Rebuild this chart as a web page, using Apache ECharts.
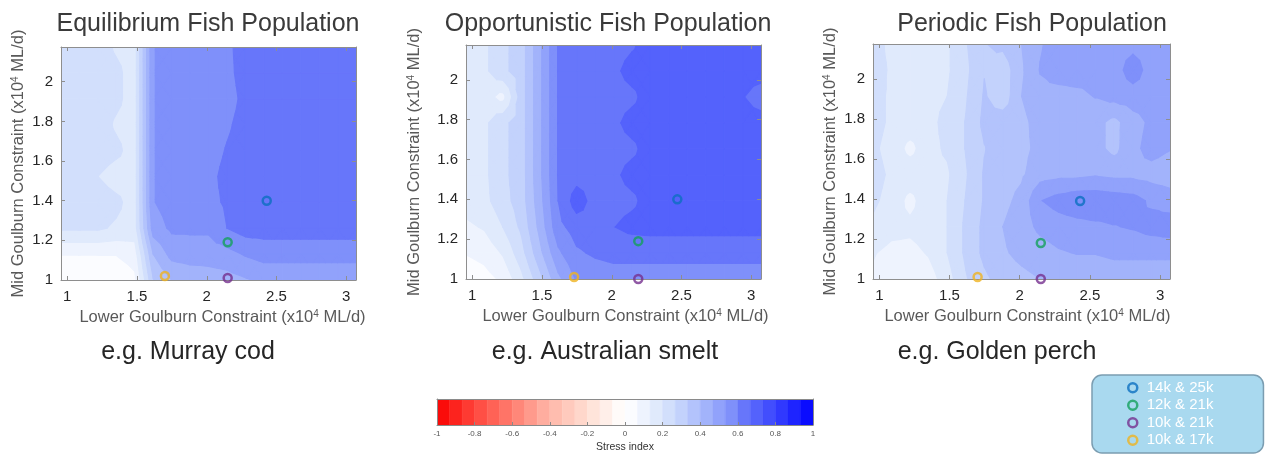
<!DOCTYPE html>
<html>
<head>
<meta charset="utf-8">
<script src="https://cdn.jsdelivr.net/npm/echarts@6/dist/echarts.min.js"></script>
<style>
  html, body { margin: 0; padding: 0; background: #ffffff; }
  #chart { width: 1271px; height: 454px; }
</style>
</head>
<body>
<div id="chart"></div>
<script>
// Flow constraint grid (x10^4 ML/d)
const lowerFlow = [0.955, 1.087, 1.219, 1.352, 1.484, 1.616, 1.748, 1.880, 2.013, 2.145, 2.277, 2.409, 2.541, 2.674, 2.806, 2.938, 3.070];
const midFlow = [1.000, 1.131, 1.261, 1.392, 1.522, 1.653, 1.784, 1.914, 2.045, 2.175];

// Stress index on the grid, one row per midFlow value (bottom to top)
const equilibriumStress = [
  [0.00, 0.00, 0.00, 0.01, 0.05, 0.33, 0.40, 0.42, 0.43, 0.44, 0.46, 0.48, 0.48, 0.48, 0.48, 0.48, 0.48],
  [0.07, 0.07, 0.07, 0.07, 0.10, 0.40, 0.49, 0.50, 0.50, 0.51, 0.54, 0.56, 0.56, 0.56, 0.56, 0.56, 0.56],
  [0.21, 0.21, 0.21, 0.19, 0.17, 0.50, 0.545, 0.545, 0.545, 0.60, 0.63, 0.63, 0.63, 0.63, 0.63, 0.63, 0.63],
  [0.235, 0.235, 0.235, 0.215, 0.17, 0.53, 0.56, 0.56, 0.58, 0.61, 0.63, 0.63, 0.63, 0.63, 0.63, 0.63, 0.63],
  [0.235, 0.24, 0.20, 0.17, 0.17, 0.53, 0.56, 0.56, 0.58, 0.62, 0.63, 0.63, 0.63, 0.63, 0.63, 0.63, 0.63],
  [0.235, 0.235, 0.235, 0.215, 0.17, 0.53, 0.56, 0.56, 0.57, 0.605, 0.63, 0.63, 0.63, 0.63, 0.63, 0.63, 0.63],
  [0.235, 0.235, 0.235, 0.19, 0.17, 0.53, 0.56, 0.56, 0.56, 0.59, 0.625, 0.63, 0.63, 0.63, 0.63, 0.63, 0.63],
  [0.235, 0.235, 0.235, 0.215, 0.17, 0.53, 0.56, 0.56, 0.56, 0.57, 0.62, 0.63, 0.63, 0.63, 0.63, 0.63, 0.63],
  [0.235, 0.235, 0.235, 0.215, 0.17, 0.53, 0.56, 0.56, 0.56, 0.58, 0.63, 0.63, 0.63, 0.63, 0.63, 0.63, 0.63],
  [0.235, 0.235, 0.235, 0.19, 0.17, 0.53, 0.56, 0.56, 0.56, 0.585, 0.63, 0.63, 0.63, 0.63, 0.63, 0.63, 0.63]
];
const opportunisticStress = [
  [0.02, 0.04, 0.08, 0.18, 0.31, 0.45, 0.54, 0.56, 0.57, 0.57, 0.57, 0.57, 0.57, 0.57, 0.57, 0.57, 0.57],
  [0.07, 0.09, 0.14, 0.24, 0.38, 0.52, 0.59, 0.61, 0.62, 0.62, 0.62, 0.62, 0.62, 0.62, 0.62, 0.62, 0.62],
  [0.12, 0.14, 0.20, 0.28, 0.42, 0.58, 0.63, 0.64, 0.665, 0.685, 0.69, 0.69, 0.69, 0.69, 0.69, 0.69, 0.69],
  [0.16, 0.18, 0.24, 0.30, 0.44, 0.60, 0.70, 0.64, 0.645, 0.655, 0.69, 0.69, 0.69, 0.69, 0.69, 0.69, 0.69],
  [0.17, 0.185, 0.25, 0.30, 0.45, 0.605, 0.64, 0.64, 0.655, 0.685, 0.69, 0.69, 0.69, 0.69, 0.69, 0.69, 0.69],
  [0.17, 0.185, 0.25, 0.30, 0.45, 0.605, 0.64, 0.64, 0.645, 0.655, 0.69, 0.69, 0.69, 0.69, 0.69, 0.69, 0.69],
  [0.17, 0.185, 0.25, 0.30, 0.45, 0.605, 0.64, 0.64, 0.655, 0.685, 0.69, 0.69, 0.69, 0.69, 0.69, 0.69, 0.69],
  [0.17, 0.16, 0.11, 0.30, 0.45, 0.605, 0.64, 0.64, 0.645, 0.655, 0.69, 0.69, 0.69, 0.69, 0.69, 0.67, 0.64],
  [0.17, 0.185, 0.25, 0.30, 0.45, 0.605, 0.64, 0.64, 0.655, 0.685, 0.69, 0.69, 0.69, 0.69, 0.69, 0.69, 0.69],
  [0.17, 0.185, 0.25, 0.30, 0.45, 0.605, 0.64, 0.64, 0.645, 0.66, 0.69, 0.69, 0.69, 0.69, 0.69, 0.69, 0.69]
];
const periodicStress = [
  [0.12, 0.08, 0.07, 0.10, 0.17, 0.26, 0.32, 0.36, 0.38, 0.40, 0.41, 0.42, 0.42, 0.43, 0.43, 0.43, 0.43],
  [0.14, 0.11, 0.11, 0.14, 0.20, 0.28, 0.35, 0.39, 0.42, 0.44, 0.46, 0.47, 0.47, 0.48, 0.48, 0.48, 0.48],
  [0.19, 0.16, 0.15, 0.17, 0.20, 0.28, 0.35, 0.40, 0.44, 0.48, 0.50, 0.51, 0.52, 0.53, 0.54, 0.56, 0.57],
  [0.21, 0.18, 0.11, 0.18, 0.20, 0.27, 0.34, 0.38, 0.42, 0.53, 0.56, 0.58, 0.58, 0.57, 0.56, 0.52, 0.50],
  [0.22, 0.19, 0.18, 0.18, 0.19, 0.26, 0.34, 0.37, 0.39, 0.44, 0.45, 0.45, 0.46, 0.45, 0.45, 0.44, 0.43],
  [0.21, 0.18, 0.11, 0.18, 0.21, 0.27, 0.33, 0.37, 0.38, 0.42, 0.43, 0.43, 0.42, 0.38, 0.45, 0.49, 0.47],
  [0.22, 0.19, 0.18, 0.18, 0.22, 0.27, 0.35, 0.37, 0.38, 0.43, 0.43, 0.43, 0.42, 0.38, 0.44, 0.48, 0.50],
  [0.22, 0.19, 0.18, 0.18, 0.20, 0.26, 0.34, 0.29, 0.40, 0.45, 0.44, 0.45, 0.47, 0.49, 0.50, 0.50, 0.47],
  [0.23, 0.19, 0.18, 0.18, 0.19, 0.25, 0.33, 0.29, 0.39, 0.47, 0.50, 0.50, 0.49, 0.50, 0.57, 0.50, 0.47],
  [0.23, 0.18, 0.17, 0.18, 0.19, 0.26, 0.33, 0.35, 0.40, 0.46, 0.50, 0.50, 0.50, 0.50, 0.51, 0.50, 0.48]
];

// Flow scenarios (mid & lower constraint) shown as rings
const scenarioNames = ['14k & 25k', '12k & 21k', '10k & 21k', '10k & 17k'];
const equilibriumScenarios = [[2.43, 1.40], [2.15, 1.19], [2.15, 1.01], [1.70, 1.02]];
const opportunisticScenarios = [[2.47, 1.40], [2.19, 1.19], [2.19, 1.00], [1.73, 1.01]];
const periodicScenarios = [[2.43, 1.39], [2.15, 1.18], [2.15, 1.00], [1.70, 1.01]];

const panelTitles = ['Equilibrium Fish Population', 'Opportunistic Fish Population', 'Periodic Fish Population'];
const panelExamples = ['e.g. Murray cod', 'e.g. Australian smelt', 'e.g. Golden perch'];

const lowerTicks = [1, 1.5, 2, 2.5, 3];
const midTicks = [1, 1.2, 1.4, 1.6, 1.8, 2];
const stressTickStep = 0.2;
const levelCount = 15;            // filled levels on each side of zero

// ---- styling ----
const FONT = '"Liberation Sans", Arial, Helvetica, sans-serif';
const scenarioColors = ['#0b6fc0', '#14a05c', '#76308f', '#efb321'];
const frameColor = '#8e8e8e';
const STEP = 1 / levelCount;

// red - white - blue colour map
const colormapStops = [
  [-1, [248, 0, 0]], [-0.967, [250, 12, 10]], [-0.8, [255, 70, 60]], [-0.6, [255, 125, 112]],
  [-0.4, [255, 182, 168]], [-0.2, [255, 222, 210]], [-0.033, [255, 251, 249]], [0, [255, 255, 255]],
  [0.033, [251, 252, 255]], [0.1, [238, 243, 254]], [0.167, [224, 234, 252]], [0.233, [210, 223, 252]],
  [0.3, [195, 210, 252]], [0.367, [179, 195, 252]], [0.433, [162, 179, 251]], [0.5, [145, 162, 251]],
  [0.567, [127, 144, 250]], [0.633, [103, 118, 250]], [0.7, [84, 98, 252]], [0.767, [66, 78, 253]],
  [0.833, [48, 57, 254]], [0.9, [30, 36, 255]], [0.967, [10, 12, 255]], [1, [0, 0, 255]]
];
function colormap(t) {
  t = Math.max(-1, Math.min(1, t));
  for (let n = 0; n < colormapStops.length - 1; n++) {
    const [ta, ca] = colormapStops[n];
    const [tb, cb] = colormapStops[n + 1];
    if (t <= tb) {
      const f = (t - ta) / (tb - ta);
      return ca.map((v, q) => v + f * (cb[q] - v));
    }
  }
  return colormapStops[colormapStops.length - 1][1];
}
function rgb(c) { return 'rgb(' + c.map(v => Math.round(v)).join(',') + ')'; }
function levelColor(k) { return rgb(colormap((k + 0.5) * STEP)); }

// keep the part of a polygon whose value is >= lo (values interpolate linearly)
function clipAbove(poly, lo) {
  const out = [];
  for (let n = 0; n < poly.length; n++) {
    const a = poly[n], b = poly[(n + 1) % poly.length];
    const ina = a[2] >= lo, inb = b[2] >= lo;
    if (ina) out.push(a);
    if (ina !== inb) {
      const f = (lo - a[2]) / (b[2] - a[2]);
      out.push([a[0] + f * (b[0] - a[0]), a[1] + f * (b[1] - a[1]), lo]);
    }
  }
  return out;
}

// one item per grid cell and filled level, painted from the lowest level up
function cellItems(stress) {
  const items = [];
  for (let j = 0; j < midFlow.length - 1; j++) {
    for (let i = 0; i < lowerFlow.length - 1; i++) {
      const vs = [stress[j][i], stress[j][i + 1], stress[j + 1][i], stress[j + 1][i + 1]];
      const k0 = Math.floor(Math.min(...vs) / STEP + 1e-9);
      const k1 = Math.floor(Math.max(...vs) / STEP + 1e-9);
      for (let k = k0; k <= k1; k++) items.push([lowerFlow[i], midFlow[j], k, i, j]);
    }
  }
  items.sort((a, b) => a[2] - b[2]);
  return items;
}

function contourRenderer(stress) {
  return function (params, api) {
    const k = api.value(2), i = api.value(3), j = api.value(4);
    const lo = k * STEP;
    const x0 = lowerFlow[i], x1 = lowerFlow[i + 1], y0 = midFlow[j], y1 = midFlow[j + 1];
    const p00 = [x0, y0, stress[j][i]], p10 = [x1, y0, stress[j][i + 1]];
    const p11 = [x1, y1, stress[j + 1][i + 1]], p01 = [x0, y1, stress[j + 1][i]];
    const mid = [(x0 + x1) / 2, (y0 + y1) / 2, (p00[2] + p10[2] + p11[2] + p01[2]) / 4];
    const color = levelColor(k);
    let polys;
    if (Math.min(p00[2], p10[2], p11[2], p01[2]) >= lo - 1e-9) {
      polys = [[p00, p10, p11, p01]];
    } else {
      polys = [[p00, p10, mid], [p10, p11, mid], [p11, p01, mid], [p01, p00, mid]]
        .map(t => clipAbove(t, lo)).filter(p => p.length >= 3);
    }
    return {
      type: 'group',
      children: polys.map(p => ({
        type: 'polygon',
        shape: { points: p.map(q => api.coord([q[0], q[1]])) },
        style: { fill: color, stroke: color, lineWidth: 1.1, lineJoin: 'round' }
      }))
    };
  };
}

const panels = [
  { title: panelTitles[0], example: panelExamples[0], stress: equilibriumStress, scenarios: equilibriumScenarios,
    grid: { left: 61, top: 47, width: 295, height: 233 }, titleX: 208, exampleX: 188, yNameGap: 34, xNameShift: 28 },
  { title: panelTitles[1], example: panelExamples[1], stress: opportunisticStress, scenarios: opportunisticScenarios,
    grid: { left: 466, top: 45, width: 295, height: 234 }, titleX: 608, exampleX: 605, yNameGap: 43, xNameShift: 24 },
  { title: panelTitles[2], example: panelExamples[2], stress: periodicStress, scenarios: periodicScenarios,
    grid: { left: 873, top: 44, width: 297, height: 235 }, titleX: 1032, exampleX: 997, yNameGap: 34, xNameShift: 12 }
];

const grids = [], xAxes = [], yAxes = [], series = [], graphics = [];
const nameRich = {
  t: { fontSize: 16.5, color: '#595959', fontFamily: FONT },
  s: { fontSize: 10, color: '#595959', fontFamily: FONT, verticalAlign: 'top' }
};
const frameLine = { show: true, onZero: false, lineStyle: { color: frameColor, width: 1 } };

panels.forEach((p, n) => {
  grids.push(Object.assign({ outerBoundsMode: 'none' }, p.grid));
  xAxes.push({
    gridIndex: n, type: 'value', min: lowerFlow[0], max: lowerFlow[lowerFlow.length - 1], position: 'bottom', z: 5,
    name: '{t|Lower Goulburn Constraint (x10}{s|4}{t| ML/d)}', nameLocation: 'middle', nameGap: 29,
    nameTextStyle: { rich: nameRich, padding: [0, 0, 0, p.xNameShift] },
    axisLine: frameLine,
    axisTick: { show: true, inside: true, length: 4, customValues: lowerTicks, lineStyle: { color: frameColor } },
    axisLabel: { customValues: lowerTicks, margin: 9, fontSize: 15, color: '#262626', fontFamily: FONT },
    splitLine: { show: false }
  });
  xAxes.push({
    gridIndex: n, type: 'value', min: lowerFlow[0], max: lowerFlow[lowerFlow.length - 1], position: 'top', z: 5,
    axisLine: frameLine,
    axisTick: { show: true, inside: true, length: 4, customValues: lowerTicks, lineStyle: { color: frameColor } },
    axisLabel: { show: false }, splitLine: { show: false }
  });
  yAxes.push({
    gridIndex: n, type: 'value', min: midFlow[0], max: midFlow[midFlow.length - 1], position: 'left', z: 5,
    name: '{t|Mid Goulburn Constraint (x10}{s|4}{t| ML/d)}', nameLocation: 'middle', nameRotate: 90, nameGap: p.yNameGap,
    nameTextStyle: { rich: nameRich },
    axisLine: frameLine,
    axisTick: { show: true, inside: true, length: 4, customValues: midTicks, lineStyle: { color: frameColor } },
    axisLabel: { customValues: midTicks, margin: 8, fontSize: 15, color: '#262626', fontFamily: FONT },
    splitLine: { show: false }
  });
  yAxes.push({
    gridIndex: n, type: 'value', min: midFlow[0], max: midFlow[midFlow.length - 1], position: 'right', z: 5,
    axisLine: frameLine,
    axisTick: { show: true, inside: true, length: 4, customValues: midTicks, lineStyle: { color: frameColor } },
    axisLabel: { show: false }, splitLine: { show: false }
  });

  series.push({
    type: 'custom', coordinateSystem: 'cartesian2d', xAxisIndex: 2 * n, yAxisIndex: 2 * n,
    data: cellItems(p.stress), renderItem: contourRenderer(p.stress),
    clip: true, silent: true, z: 1, progressive: 0
  });
  p.scenarios.forEach((pt, s) => {
    series.push({
      type: 'scatter', name: scenarioNames[s], xAxisIndex: 2 * n, yAxisIndex: 2 * n,
      data: [pt], symbol: 'circle', symbolSize: 8, silent: true, z: 6,
      itemStyle: { color: 'rgba(255,255,255,0)', borderColor: scenarioColors[s], borderWidth: 2.5 }
    });
  });

  graphics.push({
    type: 'text', x: p.titleX, y: 24,
    style: { text: p.title, font: '25px ' + FONT, fill: '#3a3a3a', textAlign: 'center', textVerticalAlign: 'middle', align: 'center', verticalAlign: 'middle' }
  });
  graphics.push({
    type: 'text', x: p.exampleX, y: 352,
    style: { text: p.example, font: '25px ' + FONT, fill: '#262626', textAlign: 'center', textVerticalAlign: 'middle', align: 'center', verticalAlign: 'middle' }
  });
});

// colour bar
const cbIndex = panels.length;
grids.push({ left: 437, top: 399, width: 376, height: 26, outerBoundsMode: 'none' });
xAxes.push({
  gridIndex: cbIndex, type: 'value', min: -1, max: 1, interval: stressTickStep, position: 'bottom', z: 5,
  name: 'Stress index', nameLocation: 'middle', nameGap: 17,
  nameTextStyle: { fontSize: 10.5, color: '#333333', fontFamily: FONT },
  axisLine: { show: true, onZero: false, lineStyle: { color: '#8a8a8a', width: 1 } },
  axisTick: { show: true, inside: true, length: 3, lineStyle: { color: '#8a8a8a' } },
  axisLabel: { fontSize: 8, color: '#555555', margin: 5, fontFamily: FONT },
  splitLine: { show: false }
});
xAxes.push({
  gridIndex: cbIndex, type: 'value', min: -1, max: 1, position: 'top', z: 5,
  axisLine: { show: true, onZero: false, lineStyle: { color: '#8a8a8a', width: 1 } },
  axisTick: { show: false }, axisLabel: { show: false }, splitLine: { show: false }
});
yAxes.push({
  gridIndex: cbIndex, type: 'value', min: 0, max: 1, position: 'left', z: 5,
  axisLine: { show: true, onZero: false, lineStyle: { color: '#8a8a8a', width: 1 } },
  axisTick: { show: false }, axisLabel: { show: false }, splitLine: { show: false }
});
yAxes.push({
  gridIndex: cbIndex, type: 'value', min: 0, max: 1, position: 'right', z: 5,
  axisLine: { show: true, onZero: false, lineStyle: { color: '#8a8a8a', width: 1 } },
  axisTick: { show: false }, axisLabel: { show: false }, splitLine: { show: false }
});
const colorbarBins = [];
for (let k = -levelCount; k < levelCount; k++) colorbarBins.push([k * STEP, (k + 1) * STEP, k]);
series.push({
  type: 'custom', coordinateSystem: 'cartesian2d', xAxisIndex: 2 * cbIndex, yAxisIndex: 2 * cbIndex,
  data: colorbarBins, silent: true, z: 1, clip: true,
  renderItem: function (params, api) {
    const a = api.coord([api.value(0), 0]);
    const b = api.coord([api.value(1), 1]);
    const color = levelColor(api.value(2));
    return {
      type: 'rect',
      shape: { x: a[0], y: b[1], width: b[0] - a[0], height: a[1] - b[1] },
      style: { fill: color, stroke: color, lineWidth: 0.5 }
    };
  }
});

const chart = echarts.init(document.getElementById('chart'), null, { renderer: 'canvas' });
chart.setOption({
  animation: false,
  backgroundColor: '#ffffff',
  grid: grids,
  xAxis: xAxes,
  yAxis: yAxes,
  series: series,
  graphic: graphics,
  legend: {
    orient: 'vertical', left: 1092, top: 375,
    padding: [4, 50, 4, 35], itemGap: 0, itemWidth: 18, itemHeight: 9,
    backgroundColor: '#a9d9ef', borderColor: '#7b9db1', borderWidth: 1.5, borderRadius: 10,
    selectedMode: false,
    textStyle: { color: '#ffffff', fontSize: 15, lineHeight: 17.5, fontFamily: FONT },
    data: scenarioNames.map((name, s) => ({
      name: name, icon: 'circle',
      itemStyle: { color: 'rgba(255,255,255,0)', borderColor: scenarioColors[s], borderWidth: 2.5 }
    }))
  }
});
</script>
</body>
</html>
